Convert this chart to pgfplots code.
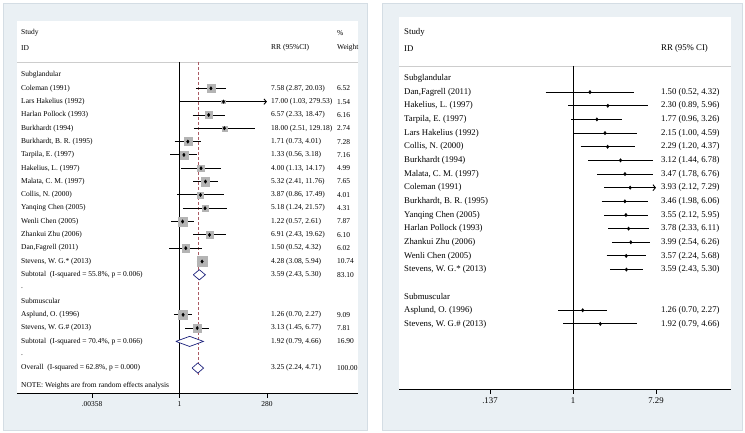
\documentclass[border=0pt]{standalone}
\usepackage{fontspec}
\setmainfont{Liberation Serif}
\usepackage{pgfplots}
\pgfplotsset{compat=1.18}
\usepackage{pgfplotstable}
\usetikzlibrary{arrows.meta}

\definecolor{bgfill}{RGB}{234,240,244}
\definecolor{bgline}{RGB}{212,221,228}
\definecolor{boxgray}{RGB}{180,180,180}
\definecolor{dianavy}{RGB}{30,35,125}
\definecolor{refred}{RGB}{170,90,100}
\definecolor{hdrline}{RGB}{205,205,205}

\newcommand\Lfont{\fontsize{7.5}{9}\selectfont}
\newcommand\Rfont{\fontsize{8.8}{10.5}\selectfont}
\newcommand\Lt[3]{\node[anchor=west,inner sep=0pt,font=\Lfont] at ({rel axis cs:#1,0}|-{axis cs:1,#2}) {#3};}
\newcommand\Rt[3]{\node[anchor=west,inner sep=0pt,font=\Rfont] at ({rel axis cs:#1,0}|-{axis cs:1,#2}) {#3};}

% left panel: row (negative = downwards), RR, lower, upper, weight
\pgfplotstableread{
row rr lo hi w
-1 7.58 2.87 20.03 6.52
-2 17.00 1.03 279.53 1.54
-3 6.57 2.33 18.47 6.16
-4 18.00 2.51 129.18 2.74
-5 1.71 0.73 4.01 7.28
-6 1.33 0.56 3.18 7.16
-7 4.00 1.13 14.17 4.99
-8 5.32 2.41 11.76 7.65
-9 3.87 0.86 17.49 4.01
-10 5.18 1.24 21.57 4.31
-11 1.22 0.57 2.61 7.87
-12 6.91 2.43 19.62 6.10
-13 1.50 0.52 4.32 6.02
-14 4.28 3.08 5.94 10.74
-18 1.26 0.70 2.27 9.09
-19 3.13 1.45 6.77 7.81
}\leftstudies

% right panel: cumulative RR
\pgfplotstableread{
row rr lo hi
-1 1.50 0.52 4.32
-2 2.30 0.89 5.96
-3 1.77 0.96 3.26
-4 2.15 1.00 4.59
-5 2.29 1.20 4.37
-6 3.12 1.44 6.78
-7 3.47 1.78 6.76
-8 3.93 2.12 7.29
-9 3.46 1.98 6.06
-10 3.55 2.12 5.95
-11 3.78 2.33 6.11
-12 3.99 2.54 6.26
-13 3.57 2.24 5.68
-14 3.59 2.43 5.30
-16.98 1.26 0.70 2.27
-17.98 1.92 0.79 4.66
}\rightstudies

\begin{document}
\begin{tikzpicture}[x=1bp,y=1bp]
\useasboundingbox (0,0) rectangle (745,-433);
\fill[white] (0,0) rectangle (745,-433);
\filldraw[fill=bgfill,draw=bgline,line width=0.6bp] (3.5,-3.5) rectangle (367,-430);
\filldraw[fill=bgfill,draw=bgline,line width=0.6bp] (382,-3.5) rectangle (742,-430);

%================ LEFT PANEL =================
\begin{axis}[
  at={(17bp,-393bp)}, anchor=south west,
  scale only axis, width=341bp, height=372bp,
  xmode=log, xmin=2.855e-5, xmax=98130,
  ymin=-23.874, ymax=4.054,
  axis x line*=bottom, axis y line=none,
  xtick={0.00358,1,280}, xticklabels={.00358,1,280},
  minor x tick num=0, xminorticks=false,
  tick align=outside, major tick length=4.5bp,
  xtick style={black, line width=0.5bp},
  x axis line style={black, line width=0.6bp},
  /pgf/number format/assume math mode=true,
  xticklabel style={font=\Lfont, yshift=-1bp},
  clip=false,
  axis background/.style={fill=white},
]
% header separator
\draw[hdrline, line width=0.6bp] ({rel axis cs:0,0}|-{axis cs:1,0.976}) -- ({rel axis cs:1,0}|-{axis cs:1,0.976});
% weight boxes (half side = 1.5*sqrt(weight))
\pgfplotsset{wbox/.style={only marks, mark=square*, boxgray, mark options={draw=boxgray, fill=boxgray}}}
\addplot[wbox, mark size=3.83bp] coordinates {(7.58,-1)};
\addplot[wbox, mark size=1.86bp] coordinates {(17.00,-2)};
\addplot[wbox, mark size=3.72bp] coordinates {(6.57,-3)};
\addplot[wbox, mark size=2.48bp] coordinates {(18.00,-4)};
\addplot[wbox, mark size=4.05bp] coordinates {(1.71,-5)};
\addplot[wbox, mark size=4.01bp] coordinates {(1.33,-6)};
\addplot[wbox, mark size=3.35bp] coordinates {(4.00,-7)};
\addplot[wbox, mark size=4.15bp] coordinates {(5.32,-8)};
\addplot[wbox, mark size=3.00bp] coordinates {(3.87,-9)};
\addplot[wbox, mark size=3.11bp] coordinates {(5.18,-10)};
\addplot[wbox, mark size=4.21bp] coordinates {(1.22,-11)};
\addplot[wbox, mark size=3.70bp] coordinates {(6.91,-12)};
\addplot[wbox, mark size=3.68bp] coordinates {(1.50,-13)};
\addplot[wbox, mark size=4.92bp] coordinates {(4.28,-14)};
\addplot[wbox, mark size=4.52bp] coordinates {(1.26,-18)};
\addplot[wbox, mark size=4.19bp] coordinates {(3.13,-19)};
% null and overall lines
\addplot[black, line width=0.6bp] coordinates {(1,0.976) (1,-23.874)};
\addplot[refred, line width=0.5bp, dash pattern=on 3bp off 2bp] coordinates {(3.25,0.976) (3.25,-22.67)};
% confidence intervals
\pgfplotsset{cil/.style={black, line width=0.9bp}}
\addplot[cil] coordinates {(2.87,-1) (20.03,-1)};
\addplot[cil, -{Straight Barb[length=2.5bp,width=5.5bp]}] coordinates {(1.03,-2) (279.53,-2)};
\addplot[cil] coordinates {(2.33,-3) (18.47,-3)};
\addplot[cil] coordinates {(2.51,-4) (129.18,-4)};
\addplot[cil] coordinates {(0.73,-5) (4.01,-5)};
\addplot[cil] coordinates {(0.56,-6) (3.18,-6)};
\addplot[cil] coordinates {(1.13,-7) (14.17,-7)};
\addplot[cil] coordinates {(2.41,-8) (11.76,-8)};
\addplot[cil] coordinates {(0.86,-9) (17.49,-9)};
\addplot[cil] coordinates {(1.24,-10) (21.57,-10)};
\addplot[cil] coordinates {(0.57,-11) (2.61,-11)};
\addplot[cil] coordinates {(2.43,-12) (19.62,-12)};
\addplot[cil] coordinates {(0.52,-13) (4.32,-13)};
\addplot[cil] coordinates {(3.08,-14) (5.94,-14)};
\addplot[cil] coordinates {(0.70,-18) (2.27,-18)};
\addplot[cil] coordinates {(1.45,-19) (6.77,-19)};
% point estimates
\addplot[only marks, mark=diamond*, mark size=1.7bp, black] table[x=rr, y=row] {\leftstudies};
% pooled diamonds
\addplot[dianavy, fill=white, line width=0.7bp] coordinates {(2.43,-15) (3.59,-14.62) (5.30,-15) (3.59,-15.38) (2.43,-15)};
\addplot[dianavy, fill=white, line width=0.7bp] coordinates {(0.79,-20) (1.92,-19.62) (4.66,-20) (1.92,-20.38) (0.79,-20)};
\addplot[dianavy, fill=white, line width=0.7bp] coordinates {(2.24,-22) (3.25,-21.62) (4.71,-22) (3.25,-22.38) (2.24,-22)};
% text
\Lt{0.0117}{3.153}{Study}
\Lt{0.0117}{2.027}{ID}
\Lt{0.745}{2.027}{RR (95\%CI)}
\Lt{0.938}{3.153}{\%}
\Lt{0.938}{2.027}{Weight}
\Lt{0.0117}{0}{Subglandular}
\Lt{0.0117}{-1}{Coleman (1991)}
\Lt{0.0117}{-2}{Lars Hakelius (1992)}
\Lt{0.0117}{-3}{Harlan Pollock (1993)}
\Lt{0.0117}{-4}{Burkhardt (1994)}
\Lt{0.0117}{-5}{Burkhardt, B. R. (1995)}
\Lt{0.0117}{-6}{Tarpila, E. (1997)}
\Lt{0.0117}{-7}{Hakelius, L. (1997)}
\Lt{0.0117}{-8}{Malata, C. M. (1997)}
\Lt{0.0117}{-9}{Collis, N. (2000)}
\Lt{0.0117}{-10}{Yanqing Chen (2005)}
\Lt{0.0117}{-11}{Wenli Chen (2005)}
\Lt{0.0117}{-12}{Zhankui Zhu (2006)}
\Lt{0.0117}{-13}{Dan,Fagrell (2011)}
\Lt{0.0117}{-14}{Stevens, W. G.* (2013)}
\Lt{0.0117}{-15}{Subtotal\ \ (I-squared = 55.8\%, p = 0.006)}
\Lt{0.0117}{-16}{.}
\Lt{0.0117}{-17}{Submuscular}
\Lt{0.0117}{-18}{Asplund, O. (1996)}
\Lt{0.0117}{-19}{Stevens, W. G.\# (2013)}
\Lt{0.0117}{-20}{Subtotal\ \ (I-squared = 70.4\%, p = 0.066)}
\Lt{0.0117}{-21}{.}
\Lt{0.0117}{-22}{Overall\ \ (I-squared = 62.8\%, p = 0.000)}
\Lt{0.0117}{-23.35}{NOTE: Weights are from random effects analysis}
\Lt{0.745}{-1}{7.58 (2.87, 20.03)}
\Lt{0.745}{-2}{17.00 (1.03, 279.53)}
\Lt{0.745}{-3}{6.57 (2.33, 18.47)}
\Lt{0.745}{-4}{18.00 (2.51, 129.18)}
\Lt{0.745}{-5}{1.71 (0.73, 4.01)}
\Lt{0.745}{-6}{1.33 (0.56, 3.18)}
\Lt{0.745}{-7}{4.00 (1.13, 14.17)}
\Lt{0.745}{-8}{5.32 (2.41, 11.76)}
\Lt{0.745}{-9}{3.87 (0.86, 17.49)}
\Lt{0.745}{-10}{5.18 (1.24, 21.57)}
\Lt{0.745}{-11}{1.22 (0.57, 2.61)}
\Lt{0.745}{-12}{6.91 (2.43, 19.62)}
\Lt{0.745}{-13}{1.50 (0.52, 4.32)}
\Lt{0.745}{-14}{4.28 (3.08, 5.94)}
\Lt{0.745}{-15}{3.59 (2.43, 5.30)}
\Lt{0.745}{-18}{1.26 (0.70, 2.27)}
\Lt{0.745}{-19}{3.13 (1.45, 6.77)}
\Lt{0.745}{-20}{1.92 (0.79, 4.66)}
\Lt{0.745}{-22}{3.25 (2.24, 4.71)}
\Lt{0.938}{-1}{6.52}
\Lt{0.938}{-2}{1.54}
\Lt{0.938}{-3}{6.16}
\Lt{0.938}{-4}{2.74}
\Lt{0.938}{-5}{7.28}
\Lt{0.938}{-6}{7.16}
\Lt{0.938}{-7}{4.99}
\Lt{0.938}{-8}{7.65}
\Lt{0.938}{-9}{4.01}
\Lt{0.938}{-10}{4.31}
\Lt{0.938}{-11}{7.87}
\Lt{0.938}{-12}{6.10}
\Lt{0.938}{-13}{6.02}
\Lt{0.938}{-14}{10.74}
\Lt{0.938}{-15}{83.10}
\Lt{0.938}{-18}{9.09}
\Lt{0.938}{-19}{7.81}
\Lt{0.938}{-20}{16.90}
\Lt{0.938}{-22}{100.00}
\end{axis}

%================ RIGHT PANEL =================
% rows: y = -(px - 78.5)/13.65
\begin{axis}[
  at={(399bp,-389bp)}, anchor=south west,
  scale only axis, width=332bp, height=372bp,
  xmode=log, xmin=0.01553, xmax=43.9,
  ymin=-22.75, ymax=4.505,
  axis x line*=bottom, axis y line=none,
  xtick={0.137,1,7.29}, xticklabels={.137,1,7.29},
  minor x tick num=0, xminorticks=false,
  tick align=outside, major tick length=4.5bp,
  xtick style={black, line width=0.5bp},
  x axis line style={black, line width=0.6bp},
  /pgf/number format/assume math mode=true,
  xticklabel style={font=\Rfont, yshift=-1bp},
  clip=false,
  axis background/.style={fill=white},
]
\draw[hdrline, line width=0.6bp] ({rel axis cs:0,0}|-{axis cs:1,0.916}) -- ({rel axis cs:1,0}|-{axis cs:1,0.916});
\addplot[black, line width=0.6bp] coordinates {(1,0.916) (1,-22.75)};
\pgfplotsset{cir/.style={black, line width=0.9bp}}
\addplot[cir] coordinates {(0.52,-1) (4.32,-1)};
\addplot[cir] coordinates {(0.89,-2) (5.96,-2)};
\addplot[cir] coordinates {(0.96,-3) (3.26,-3)};
\addplot[cir] coordinates {(1.00,-4) (4.59,-4)};
\addplot[cir] coordinates {(1.20,-5) (4.37,-5)};
\addplot[cir] coordinates {(1.44,-6) (6.78,-6)};
\addplot[cir] coordinates {(1.78,-7) (6.76,-7)};
\addplot[cir, -{Straight Barb[length=2.5bp,width=6bp]}] coordinates {(2.12,-8) (7.29,-8)};
\addplot[cir] coordinates {(1.98,-9) (6.06,-9)};
\addplot[cir] coordinates {(2.12,-10) (5.95,-10)};
\addplot[cir] coordinates {(2.33,-11) (6.11,-11)};
\addplot[cir] coordinates {(2.54,-12) (6.26,-12)};
\addplot[cir] coordinates {(2.24,-13) (5.68,-13)};
\addplot[cir] coordinates {(2.43,-14) (5.30,-14)};
\addplot[cir] coordinates {(0.70,-16.98) (2.27,-16.98)};
\addplot[cir] coordinates {(0.79,-17.98) (4.66,-17.98)};
\addplot[only marks, mark=diamond*, mark size=1.7bp, black] table[x=rr, y=row] {\rightstudies};
\Rt{0.0151}{3.407}{Study}
\Rt{0.0151}{2.222}{ID}
\Rt{0.789}{2.222}{RR (95\% CI)}
\Rt{0.0151}{0}{Subglandular}
\Rt{0.0151}{-1}{Dan,Fagrell (2011)}
\Rt{0.0151}{-2}{Hakelius, L. (1997)}
\Rt{0.0151}{-3}{Tarpila, E. (1997)}
\Rt{0.0151}{-4}{Lars Hakelius (1992)}
\Rt{0.0151}{-5}{Collis, N. (2000)}
\Rt{0.0151}{-6}{Burkhardt (1994)}
\Rt{0.0151}{-7}{Malata, C. M. (1997)}
\Rt{0.0151}{-8}{Coleman (1991)}
\Rt{0.0151}{-9}{Burkhardt, B. R. (1995)}
\Rt{0.0151}{-10}{Yanqing Chen (2005)}
\Rt{0.0151}{-11}{Harlan Pollock (1993)}
\Rt{0.0151}{-12}{Zhankui Zhu (2006)}
\Rt{0.0151}{-13}{Wenli Chen (2005)}
\Rt{0.0151}{-14}{Stevens, W. G.* (2013)}
\Rt{0.0151}{-15.98}{Submuscular}
\Rt{0.0151}{-16.98}{Asplund, O. (1996)}
\Rt{0.0151}{-17.98}{Stevens, W. G.\# (2013)}
\Rt{0.789}{-1}{1.50 (0.52, 4.32)}
\Rt{0.789}{-2}{2.30 (0.89, 5.96)}
\Rt{0.789}{-3}{1.77 (0.96, 3.26)}
\Rt{0.789}{-4}{2.15 (1.00, 4.59)}
\Rt{0.789}{-5}{2.29 (1.20, 4.37)}
\Rt{0.789}{-6}{3.12 (1.44, 6.78)}
\Rt{0.789}{-7}{3.47 (1.78, 6.76)}
\Rt{0.789}{-8}{3.93 (2.12, 7.29)}
\Rt{0.789}{-9}{3.46 (1.98, 6.06)}
\Rt{0.789}{-10}{3.55 (2.12, 5.95)}
\Rt{0.789}{-11}{3.78 (2.33, 6.11)}
\Rt{0.789}{-12}{3.99 (2.54, 6.26)}
\Rt{0.789}{-13}{3.57 (2.24, 5.68)}
\Rt{0.789}{-14}{3.59 (2.43, 5.30)}
\Rt{0.789}{-16.98}{1.26 (0.70, 2.27)}
\Rt{0.789}{-17.98}{1.92 (0.79, 4.66)}
\end{axis}
\end{tikzpicture}
\end{document}
